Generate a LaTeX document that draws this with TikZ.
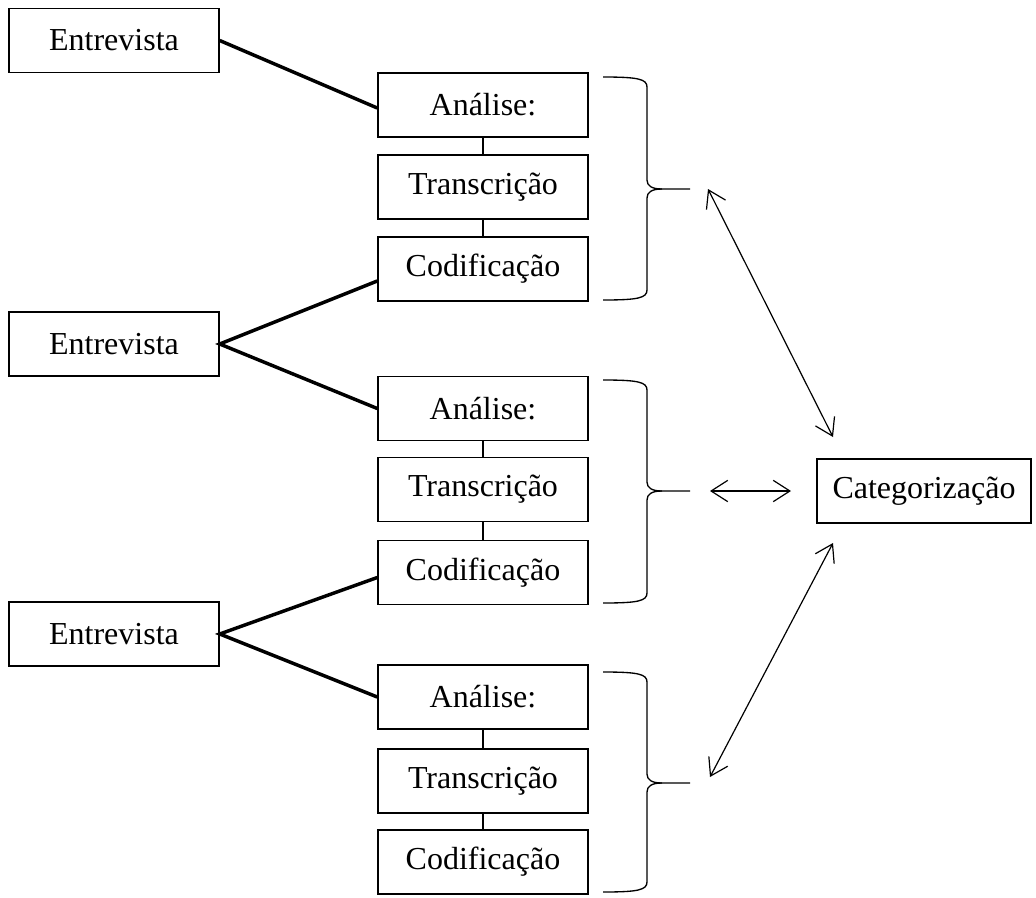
\documentclass[tikz,border=0pt]{standalone}
\usepackage{fontspec}
\setmainfont{Liberation Serif}
\usetikzlibrary{arrows.meta,calc}
\begin{document}
\begin{tikzpicture}[x=0.75pt,y=-0.75pt,
  box/.style={draw,line width=1.1pt,inner sep=0pt,minimum width=157.5pt,minimum height=48pt,font=\fontsize{24pt}{28pt}\selectfont},
  thickline/.style={line width=2.6pt},
  thinline/.style={line width=1pt},
  bracestyle/.style={line width=1pt},
  dblarrow/.style={line width=0.9pt,{Straight Barb[length=12.5pt,width=16pt]}-{Straight Barb[length=12.5pt,width=16pt]}}]
\useasboundingbox (0,0) rectangle (1036,897);
% left column
\node[box] (E1) at (114,40.5) {Entrevista};
\node[box] (E2) at (114,344) {Entrevista};
\node[box] (E3) at (114,634) {Entrevista};
% group 1
\node[box] (A1) at (483,105) {Análise:};
\node[box] (T1) at (483,187) {Transcrição};
\node[box] (C1) at (483,269) {Codificação};
% group 2
\node[box] (A2) at (483,408.5) {Análise:};
\node[box] (T2) at (483,489.5) {Transcrição};
\node[box] (C2) at (483,572.5) {Codificação};
% group 3
\node[box] (A3) at (483,697) {Análise:};
\node[box] (T3) at (483,781) {Transcrição};
\node[box] (C3) at (483,862) {Codificação};
% categorization
\node[box,minimum width=160.5pt] (cat) at (924,491) {Categorização};
% thin links
\draw[thinline] (A1) -- (T1); \draw[thinline] (T1) -- (C1);
\draw[thinline] (A2) -- (T2); \draw[thinline] (T2) -- (C2);
\draw[thinline] (A3) -- (T3); \draw[thinline] (T3) -- (C3);
% thick links
\draw[thickline] (E1.east) -- ($(A1.west)+(0,3)$);
\draw[thickline] ($(C1.west)+(0,12)$) -- (E2.east) -- (A2.west);
\draw[thickline] ($(C2.west)+(0,5)$) -- (E3.east) -- (A3.west);
% braces
\foreach \t/\m/\b in {77/189/300, 380/491/603, 672/783/892}{
  \draw[bracestyle] (603,\t) .. controls (638,\t) and (647,\t+2) .. (647,\t+10)
    -- (647,\m-9) .. controls (647,\m-3) and (652,\m) .. (662,\m) -- (690,\m);
  \draw[bracestyle] (662,\m) .. controls (652,\m) and (647,\m+3) .. (647,\m+9)
    -- (647,\b-10) .. controls (647,\b-2) and (638,\b) .. (603,\b);
}
% arrows
\coordinate (a1s) at (708,189);
\coordinate (a1e) at (833,437);
\coordinate (a2s) at (710,491);
\coordinate (a2e) at (791,491);
\coordinate (a3s) at (710,777);
\coordinate (a3e) at (833,543);
\draw[dblarrow] (a1s) -- (a1e);
\draw[dblarrow] (a2s) -- (a2e);
\draw[dblarrow] (a3s) -- (a3e);
\end{tikzpicture}
\end{document}
